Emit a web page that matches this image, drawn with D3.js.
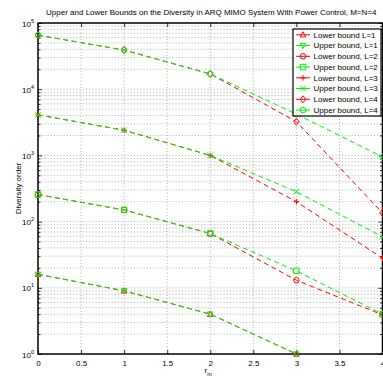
<!DOCTYPE html>
<html>
<head>
<meta charset="utf-8">
<script src="https://cdn.jsdelivr.net/npm/d3@7"></script>
<style>
  body { margin: 0; background: #fff; }
  svg { display: block; font-family: "Liberation Sans", Arial, sans-serif; }
</style>
</head>
<body>
<svg id="chart" width="383" height="378"></svg>
<script>
// values
const rm = [0, 1, 2, 3, 4]
const lowerL1 = [16, 9, 4, 1, null]
const upperL1 = [16, 9, 4, 1, null]
const lowerL2 = [256, 150, 66, 13, 3.9]
const upperL2 = [256, 150, 66, 18, 4]
const lowerL3 = [4096, 2400, 1000, 200, 28]
const upperL3 = [4096, 2400, 1000, 283, 59]
const lowerL4 = [65536, 39000, 17000, 3230, 135]
const upperL4 = [65536, 39000, 17000, 4200, 950]
const legendLabels = [
  "Lower bound L=1", "Upper bound, L=1",
  "Lower bound, L=2", "Upper bound, L=2",
  "Lower bound, L=3", "Upper bound, L=3",
  "Lower bound, L=4", "Upper bound, L=4"
]
const xTicks = [0, 0.5, 1, 1.5, 2, 2.5, 3, 3.5, 4]
const yExponents = [0, 1, 2, 3, 4, 5]

const seriesValues = [lowerL1, upperL1, lowerL2, upperL2, lowerL3, upperL3, lowerL4, upperL4]
const markers = ["tri", "trid", "circle", "square", "plus", "x", "diamond", "circle"]
const colors = ["#ff0000", "#00ee00"]

const series = seriesValues.map((vals, i) => ({
  name: legendLabels[i],
  color: colors[i % 2],
  marker: markers[i],
  points: rm.map((r, j) => ({ x: r, y: vals[j] }))
}))

const padLeft = 38
const padRight = 382.5
const padTop = 23
const padBottom = 354

const svg = d3.select("#chart")

const xScale = d3.scaleLinear().domain([0, 4]).range([padLeft, padRight])
const yScale = d3.scaleLog().domain([1, 1e5]).range([padBottom, padTop])

const majors = yExponents.map(e => Math.pow(10, e))
const minors = []
yExponents.slice(0, -1).forEach(e => {
  for (let k = 2; k <= 9; k++) minors.push(k * Math.pow(10, e))
})

// grid
const grid = svg.append("g").attr("stroke", "#9a9a9a").attr("stroke-width", 0.8)
  .attr("stroke-dasharray", "1,2.2")
xTicks.slice(1, -1).forEach(t => {
  grid.append("line").attr("x1", xScale(t)).attr("x2", xScale(t))
    .attr("y1", padTop).attr("y2", padBottom)
})
majors.concat(minors).forEach(v => {
  if (v === 1 || v === 1e5) return
  grid.append("line").attr("x1", padLeft).attr("x2", padRight)
    .attr("y1", yScale(v)).attr("y2", yScale(v))
})

// axes with inward ticks, matlab style
const tickLen = 4
const xAxis = d3.axisBottom(xScale).tickValues(xTicks).tickSizeInner(-tickLen).tickSizeOuter(0)
  .tickPadding(6).tickFormat(d => d3.format("")(d))
const gx = svg.append("g").attr("transform", `translate(0,${padBottom})`).call(xAxis)
gx.select(".domain").remove()
gx.selectAll("text").attr("font-size", 8).attr("fill", "#000")
  .attr("font-family", "Liberation Sans, Arial, sans-serif")

const xTop = d3.axisTop(xScale).tickValues(xTicks).tickSizeInner(-tickLen).tickSizeOuter(0).tickFormat("")
const gxt = svg.append("g").attr("transform", `translate(0,${padTop})`).call(xTop)
gxt.select(".domain").remove()

const yAxis = d3.axisLeft(yScale).tickValues(majors).tickSizeInner(-tickLen).tickSizeOuter(0)
  .tickPadding(4).tickFormat("")
const gy = svg.append("g").attr("transform", `translate(${padLeft},0)`).call(yAxis)
gy.select(".domain").remove()
gy.selectAll(".tick").each(function(d) {
  const t = d3.select(this).append("text")
    .attr("x", -4).attr("y", 3).attr("text-anchor", "end")
    .attr("font-size", 8).attr("fill", "#000")
  t.append("tspan").text("10")
  t.append("tspan").attr("font-size", 5.5).attr("dy", -4).text(Math.round(Math.log10(d)))
})
const yMinor = d3.axisLeft(yScale).tickValues(minors).tickSizeInner(-2.5).tickSizeOuter(0).tickFormat("")
const gym = svg.append("g").attr("transform", `translate(${padLeft},0)`).call(yMinor)
gym.select(".domain").remove()

const yRight = d3.axisRight(yScale).tickValues(majors).tickSizeInner(-tickLen).tickSizeOuter(0).tickFormat("")
const gyr = svg.append("g").attr("transform", `translate(${padRight},0)`).call(yRight)
gyr.select(".domain").remove()
const yRightMinor = d3.axisRight(yScale).tickValues(minors).tickSizeInner(-2.5).tickSizeOuter(0).tickFormat("")
const gyrm = svg.append("g").attr("transform", `translate(${padRight},0)`).call(yRightMinor)
gyrm.select(".domain").remove()

svg.selectAll(".tick line").attr("stroke", "#000").attr("stroke-width", 0.8)

// box
svg.append("rect").attr("x", padLeft).attr("y", padTop)
  .attr("width", padRight - padLeft).attr("height", padBottom - padTop)
  .attr("fill", "none").attr("stroke", "#000").attr("stroke-width", 1.5)

// marker paths
const markerPath = (type, s) => {
  const r = s / 2
  switch (type) {
    case "tri": return `M0,${-r * 1.1}L${r},${r * 0.8}L${-r},${r * 0.8}Z`
    case "trid": return `M0,${r * 1.1}L${r},${-r * 0.8}L${-r},${-r * 0.8}Z`
    case "square": return `M${-r},${-r}H${r}V${r}H${-r}Z`
    case "plus": return `M${-r},0H${r}M0,${-r}V${r}`
    case "x": return `M${-r},${-r}L${r},${r}M${r},${-r}L${-r},${r}`
    case "diamond": return `M0,${-r * 1.3}L${r},0L0,${r * 1.3}L${-r},0Z`
    default: return `M${r},0A${r},${r},0,1,1,${-r},0A${r},${r},0,1,1,${r},0Z`
  }
}

// curves
const line = d3.line()
  .defined(d => d.y != null)
  .x(d => xScale(d.x))
  .y(d => yScale(d.y))

const plot = svg.append("g")
series.forEach(s => {
  plot.append("path")
    .datum(s.points)
    .attr("d", line)
    .attr("fill", "none")
    .attr("stroke", s.color)
    .attr("stroke-width", 1)
    .attr("stroke-dasharray", "5,3.5")
  plot.selectAll(null)
    .data(s.points.filter(d => d.y != null))
    .enter()
    .append("path")
    .attr("transform", d => `translate(${xScale(d.x)},${yScale(d.y)})`)
    .attr("d", markerPath(s.marker, 5.5))
    .attr("fill", "none")
    .attr("stroke", s.color)
    .attr("stroke-width", 1)
})

// legend
const legX = 293
const legY = 29
const legW = 88
const legH = 87
const rowH = 10.75
const legend = svg.append("g").attr("id", "legend")
legend.append("rect").attr("x", legX).attr("y", legY).attr("width", legW).attr("height", legH)
  .attr("fill", "#fff").attr("stroke", "#000").attr("stroke-width", 1.2)
series.forEach((s, i) => {
  const cy = legY + 5.8 + i * rowH
  legend.append("line").attr("x1", legX + 3).attr("x2", legX + 17)
    .attr("y1", cy).attr("y2", cy).attr("stroke", s.color).attr("stroke-width", 1)
  legend.append("path").attr("transform", `translate(${legX + 10},${cy})`)
    .attr("d", markerPath(s.marker, 5.5)).attr("fill", "none")
    .attr("stroke", s.color).attr("stroke-width", 1)
  legend.append("text").attr("x", legX + 20.5).attr("y", cy + 2.9)
    .attr("font-size", 8).attr("fill", "#000").text(s.name)
})

// titles
svg.append("text").attr("x", (padLeft + padRight) / 2 + 1).attr("y", 15)
  .attr("text-anchor", "middle").attr("font-size", 8).attr("fill", "#000")
  .text("Upper and Lower Bounds on the Diversity in ARQ MIMO System With Power Control, M=N=4")

svg.append("text")
  .attr("transform", `translate(21,${(padTop + padBottom) / 2}) rotate(-90)`)
  .attr("text-anchor", "middle").attr("font-size", 8).attr("fill", "#000")
  .text("Diversity order")

const xl = svg.append("text").attr("x", (padLeft + padRight) / 2 - 2).attr("y", 373)
  .attr("text-anchor", "middle").attr("font-size", 8).attr("fill", "#000")
xl.append("tspan").text("r")
xl.append("tspan").attr("font-size", 5.5).attr("dy", 3).text("m")
</script>
</body>
</html>
